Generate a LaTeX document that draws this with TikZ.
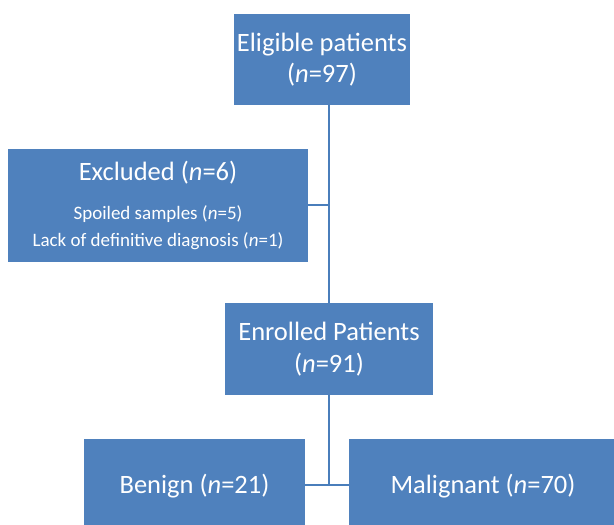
\documentclass[tikz,border=0pt]{standalone}
\usepackage{fontspec}
\setmainfont{Carlito}
\definecolor{boxblue}{HTML}{4F81BD}
\definecolor{lineblue}{HTML}{4A7EBB}
\newcommand{\nn}{\textit{n}}
\newcommand{\subsize}{\fontsize{19}{27}\selectfont}
\begin{document}
\begin{tikzpicture}[x=1pt,y=-1pt,
		box/.style={fill=boxblue, draw=none, text=white, align=center, inner sep=0pt,
			font=\fontsize{26.5}{31}\selectfont},
		link/.style={draw=lineblue, line width=1.6pt}]
			\useasboundingbox (0,0) rectangle (614,525);
			% boxes
			\node[box, minimum width=176pt, minimum height=91pt] (elig) at (322,59.5) {Eligible patients\\(\nn=97)};
			\node[box, minimum width=300pt, minimum height=113pt] (excl) at (158,205)
				{Excluded (\nn=6)\\[8pt]{\subsize Spoiled samples (\nn=5)}\\[-4pt]{\subsize Lack of definitive diagnosis (\nn=1)}};
			\node[box, minimum width=208pt, minimum height=92pt] (enrol) at (329,349) {Enrolled Patients\\[1pt](\nn=91)};
			\node[box, minimum width=221pt, minimum height=94pt] (benign) at (194.5,486) {Benign (\nn=21)};
			\node[box, minimum width=268pt, minimum height=94pt] (malig) at (483,486) {Malignant (\nn=70)};
			% connectors
			\coordinate (top) at (elig.south -| 329,0);
			\coordinate (mid) at (enrol.north -| 329,0);
			\draw[link] (top) -- (mid);
			\draw[link] (excl.east) -- (excl.east -| top);
			\coordinate (fork) at (329,485);
			\draw[link] (enrol.south -| fork) -- (fork);
			\draw[link] (benign.east |- fork) -- (malig.west |- fork);
		\end{tikzpicture}
\end{document}
